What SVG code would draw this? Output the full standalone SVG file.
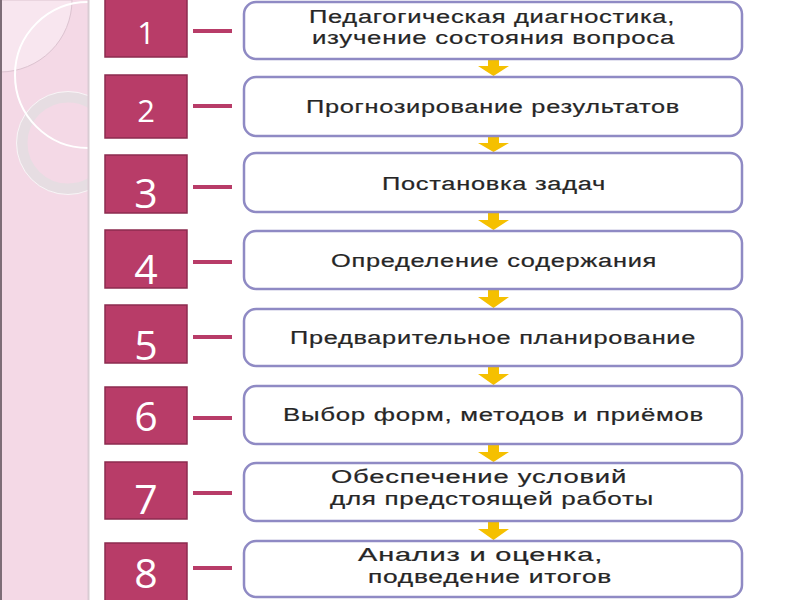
<svg xmlns="http://www.w3.org/2000/svg" width="800" height="600" viewBox="0 0 800 600">
<style>
.num rect{fill:#b83c68;stroke:#8c2b4f;stroke-width:1.5}
.num text{font-family:"Open Sans","Liberation Sans",sans-serif;fill:#ffffff;text-anchor:middle}
.dash{stroke:#b83c68;stroke-width:4}
.step rect{fill:#ffffff;stroke:#8f8ac4;stroke-width:2.5}
.step text{font-family:"Liberation Sans",Arial,sans-serif;font-size:18px;fill:#262626;letter-spacing:0.5px;stroke:#262626;stroke-width:0.2}
.arrow{fill:#f5c000}
</style>
<defs>
<clipPath id="panelClip"><rect x="0" y="0" width="88" height="600"/></clipPath>
</defs>
<rect x="0" y="0" width="800" height="600" fill="#ffffff"/>
<g id="panel">
<rect x="0" y="0" width="88" height="600" fill="#f4d9e6"/>
<g clip-path="url(#panelClip)">
<path d="M0,0 L72,0 A72,72 0 0 1 0,72 Z" fill="#f8e6ef" stroke="#dcc3d0" stroke-width="1"/>
<circle cx="68" cy="143" r="46" fill="none" stroke="#e6dde2" stroke-width="11"/>
<circle cx="68" cy="143" r="51.5" fill="none" stroke="#ffffff" stroke-width="1" opacity="0.7"/>
<circle cx="88" cy="75" r="73" fill="none" stroke="#ffffff" stroke-width="2"/>
</g>
<line x1="1" y1="0" x2="1" y2="600" stroke="#7d6d77" stroke-width="2"/>
<line x1="88.5" y1="0" x2="88.5" y2="600" stroke="#d9ccd3" stroke-width="2"/>
</g>
<g id="connectors">
<line class="dash" x1="193" y1="31" x2="232" y2="31"/>
<line class="dash" x1="193" y1="106" x2="232" y2="106"/>
<line class="dash" x1="193" y1="187" x2="232" y2="187"/>
<line class="dash" x1="193" y1="262" x2="232" y2="262"/>
<line class="dash" x1="193" y1="337" x2="232" y2="337"/>
<line class="dash" x1="193" y1="418" x2="232" y2="418"/>
<line class="dash" x1="193" y1="493" x2="232" y2="493"/>
<line class="dash" x1="193" y1="568" x2="232" y2="568"/>
<path class="arrow" d="M488,60 H499 V66 H509 L493.5,76 L478,66 H488 Z"/>
<path class="arrow" d="M488,137 H499 V143 H509 L493.5,152 L478,143 H488 Z"/>
<path class="arrow" d="M488,213 H499 V220 H509 L493.5,230 L478,220 H488 Z"/>
<path class="arrow" d="M488,290 H499 V297 H509 L493.5,308 L478,297 H488 Z"/>
<path class="arrow" d="M488,367 H499 V374 H509 L493.5,385 L478,374 H488 Z"/>
<path class="arrow" d="M488,445 H499 V452 H509 L493.5,462 L478,452 H488 Z"/>
<path class="arrow" d="M488,522 H499 V529 H509 L493.5,540 L478,529 H488 Z"/>
</g>
<g id="n1" class="num"><rect x="105" y="-2" width="82" height="59"/><text x="146" y="44" font-size="31">1</text></g>
<g id="n2" class="num"><rect x="105" y="75" width="82" height="63"/><text x="146" y="122" font-size="31">2</text></g>
<g id="n3" class="num"><rect x="105" y="155" width="82" height="58"/><text x="146" y="208" font-size="41">3</text></g>
<g id="n4" class="num"><rect x="105" y="230" width="82" height="58"/><text x="146" y="284" font-size="41">4</text></g>
<g id="n5" class="num"><rect x="105" y="305" width="82" height="58"/><text x="146" y="360" font-size="41">5</text></g>
<g id="n6" class="num"><rect x="105" y="387" width="82" height="57"/><text x="146" y="431" font-size="41">6</text></g>
<g id="n7" class="num"><rect x="105" y="462" width="82" height="57"/><text x="146" y="514" font-size="41">7</text></g>
<g id="n8" class="num"><rect x="105" y="543" width="82" height="60"/><text x="146" y="588" font-size="41">8</text></g>
<g id="s1" class="step"><rect x="244" y="2" width="498" height="57" rx="12"/>
<text x="309" y="23" textLength="366" lengthAdjust="spacingAndGlyphs">Педагогическая диагностика,</text>
<text x="312" y="44" textLength="363" lengthAdjust="spacingAndGlyphs">изучение состояния вопроса</text></g>
<g id="s2" class="step"><rect x="244" y="77" width="498" height="59" rx="12"/>
<text x="306" y="113" textLength="374" lengthAdjust="spacingAndGlyphs">Прогнозирование результатов</text></g>
<g id="s3" class="step"><rect x="244" y="153" width="498" height="59" rx="12"/>
<text x="382" y="190" textLength="224" lengthAdjust="spacingAndGlyphs">Постановка задач</text></g>
<g id="s4" class="step"><rect x="244" y="231" width="498" height="58" rx="12"/>
<text x="331" y="267" textLength="326" lengthAdjust="spacingAndGlyphs">Определение содержания</text></g>
<g id="s5" class="step"><rect x="244" y="309" width="498" height="57" rx="12"/>
<text x="290" y="344" textLength="406" lengthAdjust="spacingAndGlyphs">Предварительное планирование</text></g>
<g id="s6" class="step"><rect x="244" y="386" width="498" height="58" rx="12"/>
<text x="283" y="421" textLength="421" lengthAdjust="spacingAndGlyphs">Выбор форм, методов и приёмов</text></g>
<g id="s7" class="step"><rect x="244" y="463" width="498" height="58" rx="12"/>
<text x="331" y="483" textLength="296" lengthAdjust="spacingAndGlyphs">Обеспечение условий</text>
<text x="330" y="505" textLength="324" lengthAdjust="spacingAndGlyphs">для предстоящей работы</text></g>
<g id="s8" class="step"><rect x="244" y="541" width="498" height="56" rx="12"/>
<text x="358" y="561" textLength="245" lengthAdjust="spacingAndGlyphs">Анализ и оценка,</text>
<text x="368" y="583" textLength="244" lengthAdjust="spacingAndGlyphs">подведение итогов</text></g>
</svg>
